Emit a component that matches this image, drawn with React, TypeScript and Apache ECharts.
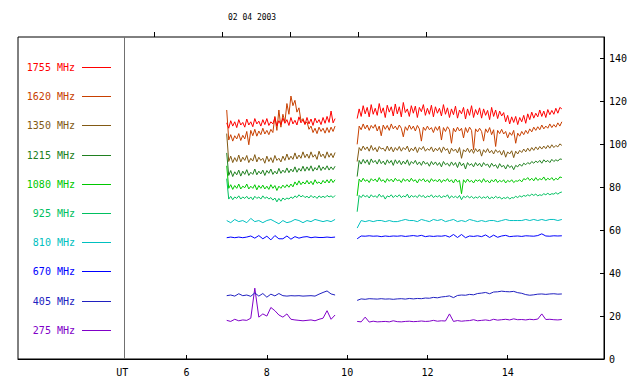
import React, { useEffect, useRef } from "react";
import * as echarts from "echarts";

const titleText = "02 04 2003";
const freqLabels = ["1755 MHz", "1620 MHz", "1350 MHz", "1215 MHz", "1080 MHz", "925 MHz", "810 MHz", "670 MHz", "405 MHz", "275 MHz"];
const colors = ["#ff0000", "#c84000", "#825a14", "#208020", "#00c800", "#00c060", "#00c0c0", "#0000ff", "#2020c0", "#8000c8"];

const xTickValues = [6, 8, 10, 12, 14];
const utLabelPos = 4.4;
const dividerPos = 4.44;
const yTickValues = [0, 20, 40, 60, 80, 100, 120, 140];
const topTickValues = [2, 3, 4, 5, 6];

// sampling grid (UT hours)
const seg1Start = 7.0;
const seg2Start = 10.25;
const sampleStep = [0.05, 0.05, 0.05, 0.05, 0.05, 0.05, 0.1, 0.1, 0.1, 0.1];
const gapTime = 9.95;

// segment 1: from 7.0 UT
const s1_1755 = [110, 107.5, 111, 108.5, 110.5, 107.8, 111.5, 109, 110.2, 108,
  111.8, 109, 110.5, 108.2, 112, 109.5, 110.8, 108.5, 111.5, 109.2,
  112, 108.8, 110.5, 109.5, 112.5, 108.6, 111, 109.2, 112.2, 109.8,
  111.5, 108.8, 112.5, 109.5, 111.2, 109, 112.8, 110, 111.5, 109.2,
  112.5, 109.5, 111.8, 108.8, 112.2, 110, 111.5, 109.2, 112.5, 109.8,
  113, 110.2, 115.5, 110, 112];
const s1_1620 = [116, 102, 104.5, 101.5, 104, 102.5, 105, 101.8, 104.2, 102.5,
  106, 99.8, 106.5, 104, 107, 103.8, 106.2, 104.5, 107.5, 104.8,
  106.5, 104.5, 107, 105.5, 113, 106.5, 116, 108, 114, 110.5,
  119, 114, 122.5, 118, 120.5, 115, 117, 111, 112, 109.5,
  110.5, 107, 108.5, 105.5, 107.5, 105, 108, 106, 107.5, 105.2,
  107.8, 105.5, 108, 106, 108.5];
const s1_1350 = [105, 92, 94.5, 91.5, 93.8, 92, 95, 91.8, 94, 92.5,
  94.8, 91.5, 93.5, 92.2, 95.2, 91.8, 94, 92.5, 93.5, 91.2,
  94.5, 92, 93.8, 91.5, 94.8, 92.5, 93.5, 91.8, 94.5, 92.5,
  95.5, 92.8, 94.5, 93, 96, 93.2, 95, 93.5, 96.5, 93.8,
  95.5, 93.5, 96.5, 94, 95.2, 93, 96.8, 94.2, 95.5, 93.5,
  96.5, 94, 95.8, 93.8, 96.2];
const s1_1215 = [96, 85.5, 87.8, 85, 87.2, 85.8, 88, 85.2, 87.5, 86,
  88.2, 85.5, 87, 86, 88.5, 85.8, 87.5, 86.2, 88, 85.5,
  87.8, 86.5, 88.5, 86, 87.5, 86.2, 88.8, 86.5, 88, 86.8,
  89, 86.8, 88.5, 87.2, 89.5, 87, 88.8, 87.5, 89.8, 87.5,
  89.5, 87.8, 90, 87.5, 89.2, 88, 90.2, 87.8, 89.5, 88.2,
  90, 88, 89.5, 88.2, 89.8];
const s1_1080 = [90, 79.5, 81.2, 79, 80.8, 79.5, 81.5, 79.2, 80.5, 79.8,
  81.5, 79.2, 80.5, 79.5, 81.2, 78.8, 80.8, 79.5, 81, 79.2,
  80.5, 79, 81.2, 79.5, 80.8, 78.5, 80.5, 79.5, 81, 79.8,
  81.2, 80, 81.5, 80.2, 82.5, 81, 83, 81.2, 82.5, 81.5,
  83.2, 81.5, 82.8, 81.2, 83.5, 81.8, 82.5, 81.5, 83.2, 82,
  83.5, 82, 83.8, 82.2, 83.5];
const s1_925 = [84, 74.5, 75.8, 74.2, 75.5, 74.8, 76, 74.5, 75.5, 74.8,
  75.8, 74.5, 75.5, 74.2, 75.8, 74.8, 75.5, 74.5, 76, 74.8,
  75.5, 74.5, 75.2, 74, 75, 73.2, 74.8, 73.5, 75, 74.2,
  75, 74.5, 75.5, 74.8, 76, 75.2, 76.5, 75.5, 76.2, 75.2,
  75.8, 75, 76.2, 75.2, 75.8, 74.8, 76, 75.2, 75.8, 75.2,
  76.2, 75.5, 76, 75.2, 76.2];
const s1_810 = [64.5, 63.5, 65, 64, 64.5, 63.5, 65.5, 64, 64.5, 63.5, 64.5, 65, 64, 63, 64.5, 63.5, 64, 65, 64.5, 63.5, 64.5, 64, 65, 64.5, 64, 64.5, 64, 65];
const s1_670 = [56.5, 56.8, 56.5, 56.8, 56.5, 56.8, 57.3, 56.3, 57.5, 56, 57.2, 55.5, 57.5, 56, 56, 57.3, 55.8, 57, 56.3, 56.8, 57, 56.5, 56.8, 56.6, 56.6, 56.8, 56.6, 56.8];
const s1_405 = [29.5, 29.8, 29.3, 30.4, 29.5, 29.8, 29.2, 30.8, 29.3, 30.5, 28.8, 30.2, 29.4, 30.5, 29.5, 29.3, 29.5, 29.4, 29.5, 29.3, 29.4, 29.5, 29.3, 30.2, 31, 31.7, 30.3, 29.8];
const s1_275 = [18, 17.5, 18.5, 17.8, 18.2, 18, 19, 33, 19.5, 21, 20, 24, 22.5, 20.5, 19.5, 21, 18.5, 18.2, 18, 17.8, 18, 18.2, 17.8, 18.5, 19, 22.5, 18.5, 20.5];

// segment 2: from 10.25 UT
const s2_1755 = [112, 116.5, 113, 118, 114.2, 117.2, 112.8, 118.5, 114, 116.8, 113.5, 119, 114.5, 117, 112.5, 118.2, 115, 117.5, 113.2, 118.8,
  114.2, 117.5, 112.8, 119.5, 114.8, 116.5, 113, 118, 114.5, 117.8, 112.5, 117.2, 115.2, 118.5, 113.5, 116.8, 114, 118.2, 112.8, 117.5,
  114.5, 116.8, 113.2, 118.5, 114, 117, 112.5, 116.5, 113.8, 117.8, 112.2, 116, 114.2, 117.2, 111.8, 116.5, 113.5, 118, 112.5, 116.2,
  113.8, 117, 112.2, 116.5, 113.5, 115.8, 111.5, 117.2, 113, 116, 112, 115.5, 113.2, 114.8, 110.5, 113.5, 109.5, 112.8, 110.2, 113,
  109.2, 112.5, 110.5, 113.5, 109.8, 114.2, 111.5, 115, 112.2, 114.5, 112.8, 116, 113, 115.5, 112.5, 116.2, 113.8, 115.8, 114, 116.8,
  114.5, 117.2, 116.5];
const s2_1620 = [100, 108.5, 106.8, 109.5, 107.2, 109, 106.5, 108.8, 107.5, 109.2, 106.2, 108.5, 104, 109, 107, 108.8, 106.5, 109.5, 107.2, 108.5,
  106.8, 109, 107.5, 103.5, 108.2, 106.5, 109, 107, 108.5, 106.2, 108.8, 107.2, 101.5, 108, 106.5, 108.5, 106.8, 107.8, 105.5, 108.2,
  106.5, 108.5, 102, 107.8, 106, 108.2, 106.8, 100.5, 107.5, 105.8, 108, 106.2, 107.5, 103, 107.8, 105.5, 108, 106.5, 97.5, 107.2,
  105.8, 107.5, 106, 101.5, 107.2, 105.5, 107.8, 104.5, 106.8, 99, 106.5, 105, 107, 104.8, 106, 103, 105.5, 104.2, 106.5, 100.5,
  105.2, 103.8, 106, 104.5, 106.5, 105, 107.2, 105.8, 108, 106.5, 108.2, 106.8, 109, 107.2, 108.5, 107.5, 109.5, 107.8, 109.2, 108,
  110, 108.5, 110.5];
const s2_1350 = [92, 98.5, 97, 99.2, 97.5, 98.8, 96.8, 99.5, 97.2, 98.5, 96.5, 99, 97.8, 98.2, 96.8, 99.2, 97, 98.8, 96.5, 98.5,
  97.2, 99, 96.8, 98.5, 97.5, 99.2, 96.5, 98.2, 97, 98.8, 96.2, 98.5, 97.5, 99, 96.8, 98, 97.2, 98.8, 96.5, 98.2,
  97, 98.5, 96.2, 98.8, 97.2, 98, 95.5, 98.2, 96.8, 97.8, 96, 98.5, 93.5, 97.5, 96.5, 98.2, 96.2, 97.8, 95.8, 98,
  96.5, 97.8, 94.5, 97.5, 96.2, 98, 96, 97.2, 95.5, 97.5, 96.2, 97, 95, 97.2, 94, 96.5, 95.5, 97, 93.8, 96.8,
  95.5, 97.2, 96.2, 97.8, 96.5, 98.2, 96.8, 98.5, 97.2, 98.8, 97.5, 99, 97.8, 99.2, 98, 99.5, 98.2, 99.8, 98.5, 99.5,
  98.8, 100.2, 99.5];
const s2_1215 = [85, 92.5, 90.8, 93, 91.2, 92.8, 90.5, 93.2, 91.5, 92.5, 90.8, 93, 91, 92.2, 90.5, 92.8, 91.2, 92.5, 90.2, 92.8,
  91, 92.5, 90.5, 92.2, 90.8, 92.8, 90.2, 92, 91, 92.5, 90.5, 91.8, 90.2, 92.2, 90.8, 91.5, 89.8, 92, 90.5, 91.8,
  90.2, 91.5, 89.5, 92, 90.5, 91.2, 89.8, 91.8, 90.2, 91.5, 89.2, 91.8, 90, 91.2, 88.5, 91.5, 90.2, 91, 89.5, 91.5,
  90, 91.2, 89.5, 91.5, 90.2, 90.8, 89.2, 91.2, 89.8, 90.5, 88.8, 91, 89.5, 90.2, 88.5, 90.5, 89.2, 90, 88.2, 90.2,
  89.5, 90.8, 89.8, 91.2, 90.5, 91.5, 90.8, 92, 91.2, 92.2, 91.5, 92.5, 91.2, 92.8, 91.8, 92.5, 91.5, 93, 92, 92.8,
  92.2, 93.2, 93];
const s2_1080 = [76, 83.8, 82.5, 84.2, 82.8, 83.5, 82.2, 84, 83, 83.8, 82.5, 84.5, 82.8, 83.5, 82.2, 84, 82.8, 83.8, 82.5, 84.2,
  83, 83.5, 82.2, 84, 82.8, 83.8, 82.5, 84.2, 82.8, 83.5, 82, 83.8, 83, 84, 82.5, 83.5, 82.2, 84, 82.8, 83.5,
  82.5, 83.8, 82.2, 83.5, 82.8, 84, 82.5, 83.5, 82, 83.8, 82.5, 83.2, 77, 83.5, 82.2, 83.8, 82.5, 83.2, 82, 83.5,
  82.8, 83.5, 82.2, 84, 82.5, 83.2, 82, 83.5, 82.5, 83.8, 82.2, 83.2, 82.5, 83.5, 82, 83.2, 82.5, 83.5, 82.2, 83,
  82.8, 83.5, 82.5, 84, 83.5, 84.5, 83.2, 84.2, 83, 84.5, 83.2, 84, 83.5, 84.8, 83.2, 84.2, 83.5, 84.5, 83.2, 84.2,
  83.5, 84.8, 84.5];
const s2_925 = [68.6, 76.2, 75.2, 76.5, 75.5, 76.2, 75, 76.5, 75.5, 76, 75.2, 76.8, 75.5, 76.2, 74.5, 76, 75.5, 76.5, 75.2, 76.2,
  75.5, 76.5, 75.2, 76, 75.5, 76.8, 75, 76.2, 75.5, 76, 75.2, 76.5, 75.5, 76.2, 75, 76, 75.5, 76.5, 75.2, 76,
  75.5, 76.2, 75, 76, 75.5, 76.5, 74.8, 76, 75.2, 75.8, 75, 76.2, 74.2, 75.8, 75.2, 76, 75, 75.8, 74.8, 75.5,
  75, 75.8, 74.8, 75.5, 75, 75.8, 74.5, 75.5, 74.8, 75.8, 75, 75.5, 74.5, 75.2, 74.8, 75.5, 74.5, 75.2, 75, 75.8,
  75.2, 76, 75.5, 76.2, 75.8, 76.5, 76, 76.8, 76.2, 76.8, 76, 76.5, 76.2, 77, 76.5, 77.2, 76.5, 77, 76.8, 77.5,
  76.8, 77.5, 77.8];
const s2_810 = [61, 64.5, 64, 64.5, 64, 64.5, 64.5, 64, 64.5, 64, 64, 64.5, 65, 64.5, 64.5, 64, 65, 64.5, 64, 65, 64.5, 65, 64, 64.5, 65, 64, 64.5, 64, 65, 64.5, 64, 64.5, 64, 64.5, 64.5, 64, 64.5, 65, 64.5, 64.5, 64.5, 64.5, 65, 64.5, 65, 64.5, 65, 64.5, 65, 65, 64.5, 65];
const s2_670 = [56, 57.3, 57.2, 57.4, 57.2, 57.3, 57, 57.3, 57.1, 57.3, 57.2, 57.4, 57.1, 57.3, 57.5, 57.2, 57.6, 57, 57.3, 57.1, 57.3, 57.2, 57.5, 56.8, 58, 56.6, 58, 56.5, 57.3, 57.1, 57.4, 57, 57.8, 56.6, 57.7, 56.7, 57.3, 57.6, 57.0, 57.2, 57.3, 57.1, 57.4, 57.3, 57.2, 57.5, 58.3, 57.3, 57.2, 57.4, 57.3, 57.4];
const s2_405 = [27.3, 28, 27.8, 28.1, 28, 27.9, 28.1, 27.9, 28, 27.8, 28, 28.1, 27.9, 28.2, 28, 28.2, 28.1, 28.4, 28.3, 28.7, 28.5, 28.9, 29.1, 29.4, 28.6, 29.6, 29.8, 29.7, 30.1, 29.9, 30.5, 30.7, 31, 30.4, 31.2, 31.3, 31.6, 31.4, 31.3, 31.5, 30.9, 30.6, 30.0, 29.7, 29.9, 30.2, 30.3, 30.1, 30.3, 30.4, 30.2, 30.3];
const s2_275 = [17.5, 17.3, 19.5, 17.2, 17.6, 17.3, 17.4, 17.5, 17.3, 17.8, 17.4, 17.3, 17.5, 17.6, 17.4, 17.5, 17.7, 17.5, 17.6, 18, 17.6, 17.8, 17.7, 21, 17.5, 17.9, 17.6, 17.8, 17.9, 18.3, 17.8, 18, 18.2, 17.9, 18.5, 18.1, 18.3, 18.5, 18.2, 18.7, 18.3, 18.4, 18.2, 18.5, 18.3, 18.6, 21, 18.4, 18.5, 18.3, 18.2, 18.4];

const seg1 = [s1_1755, s1_1620, s1_1350, s1_1215, s1_1080, s1_925, s1_810, s1_670, s1_405, s1_275];
const seg2 = [s2_1755, s2_1620, s2_1350, s2_1215, s2_1080, s2_925, s2_810, s2_670, s2_405, s2_275];

const FONT = '"DejaVu Sans Mono", monospace';

function buildData(a: number[], b: number[], st: number) {
  const d: any[] = [];
  a.forEach((v, i) => d.push([+(seg1Start + st * i).toFixed(3), v]));
  d.push([gapTime, "-"]);
  b.forEach((v, i) => d.push([+(seg2Start + st * i).toFixed(3), v]));
  return d;
}

export default function App() {
  const ref = useRef<HTMLDivElement>(null);
  useEffect(() => {
    if (!ref.current) return;
    const chart = echarts.init(ref.current, undefined, { renderer: "svg" });

    const series: any[] = freqLabels.map((name, k) => ({
      name,
      type: "line",
      xAxisIndex: 0,
      yAxisIndex: 0,
      data: buildData(seg1[k], seg2[k], sampleStep[k]),
      showSymbol: false,
      symbol: "none",
      lineStyle: { color: colors[k], width: 1 },
      itemStyle: { color: colors[k] },
      z: 10 - k,
      ...(k === 0
        ? {
            markLine: {
              silent: true,
              symbol: "none",
              label: { show: false },
              lineStyle: { color: "#707070", type: "solid", width: 1 },
              data: [{ xAxis: dividerPos }],
            },
          }
        : {}),
    }));

    const legendGraphics: any[] = [];
    freqLabels.forEach((name, k) => {
      const yy = Math.round(67 + k * 29.2);
      legendGraphics.push({
        type: "text",
        x: 75,
        y: yy + 0.5,
        style: { text: name, fill: colors[k], font: `10px ${FONT}`, textAlign: "right", textVerticalAlign: "middle" },
      });
      legendGraphics.push({
        type: "rect",
        shape: { x: 82, y: yy, width: 29, height: 1 },
        style: { fill: colors[k] },
      });
    });

    chart.setOption({
      animation: false,
      backgroundColor: "#ffffff",
      title: {
        text: titleText,
        left: 228,
        top: 13,
        padding: 0,
        textStyle: { fontFamily: FONT, fontSize: 8, fontWeight: "normal", color: "#000" },
      },
      grid: {
        left: 18,
        right: 36,
        top: 37,
        bottom: 25,
        show: true,
        borderColor: "#000",
        borderWidth: 1,
        backgroundColor: "transparent",
      },
      xAxis: [
        {
          type: "value",
          position: "bottom",
          min: 1.8,
          max: 16.4,
          axisLine: { show: true, onZero: false, lineStyle: { color: "#000", width: 1 } },
          axisTick: { show: true, inside: true, length: 4, lineStyle: { color: "#000" }, customValues: xTickValues },
          axisLabel: {
            show: true,
            margin: 8,
            color: "#000",
            fontFamily: FONT,
            fontSize: 10,
            customValues: [utLabelPos, ...xTickValues],
            formatter: (v: number) => (v < 5 ? "UT" : String(v)),
          },
          splitLine: { show: false },
        },
        {
          type: "value",
          position: "top",
          min: 0,
          max: 586 / 68,
          axisLine: { show: false, onZero: false },
          axisTick: { show: true, inside: false, length: 5, lineStyle: { color: "#000" }, customValues: topTickValues },
          axisLabel: { show: false },
          splitLine: { show: false },
        },
      ],
      yAxis: [
        {
          type: "value",
          position: "right",
          min: 0,
          max: 150,
          axisLine: { show: true, onZero: false, lineStyle: { color: "#000", width: 1 } },
          axisTick: { show: true, inside: true, length: 4, lineStyle: { color: "#000" }, customValues: yTickValues },
          axisLabel: {
            show: true,
            margin: 5,
            color: "#000",
            fontFamily: FONT,
            fontSize: 10,
            customValues: yTickValues,
          },
          splitLine: { show: false },
        },
      ],
      graphic: legendGraphics,
      series,
    });

    return () => chart.dispose();
  }, []);

  return <div ref={ref} style={{ position: "fixed", left: 0, top: 0, width: 640, height: 384, background: "#fff" }} />;
}
